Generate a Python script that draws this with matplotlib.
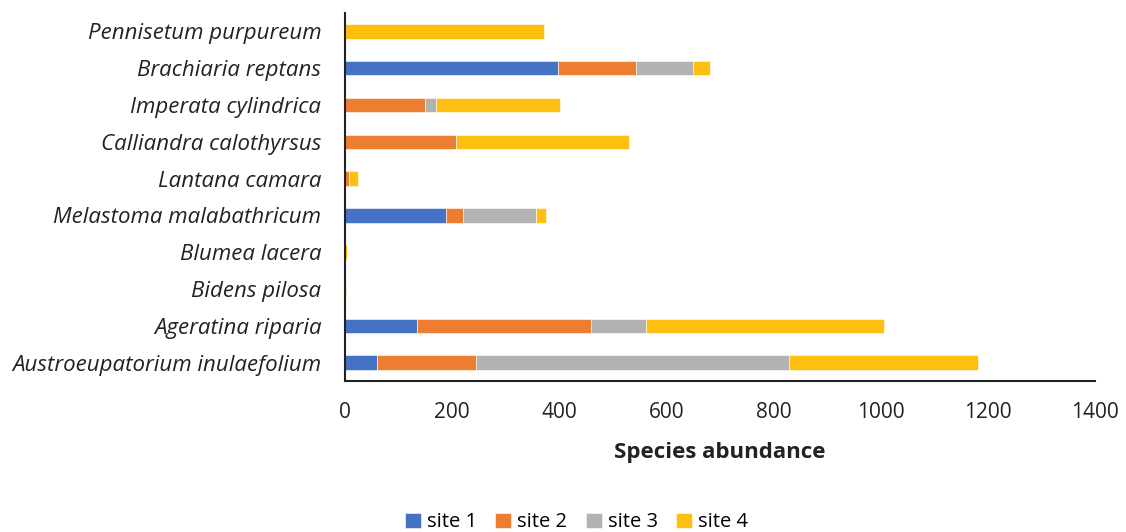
import matplotlib
matplotlib.use("Agg")
import matplotlib.pyplot as plt
import numpy as np

plt.rcParams['font.family'] = ['Open Sans', 'DejaVu Sans']

# species, listed bottom to top
species = ["Austroeupatorium inulaefolium", "Ageratina riparia", "Bidens pilosa",
           "Blumea lacera", "Melastoma malabathricum", "Lantana camara",
           "Calliandra calothyrsus", "Imperata cylindrica", "Brachiaria reptans",
           "Pennisetum purpureum"]

site1 = [59, 134, 0, 0, 188, 0, 0, 0, 397, 0]
site2 = [185, 325, 0, 0, 33, 8, 207, 149, 146, 0]
site3 = [584, 103, 0, 0, 135, 0, 0, 21, 106, 0]
site4 = [353, 444, 1, 4, 20, 17, 323, 232, 33, 371]

series = [site1, site2, site3, site4]
names = ["site 1", "site 2", "site 3", "site 4"]
colors = ["#4472C4", "#ED7D31", "#B2B2B2", "#FDC010"]

fig = plt.figure(figsize=(11.26, 5.32), dpi=100)
ax = fig.add_axes([0.3064, 0.2838, 0.6661, 0.6918])

y = np.arange(len(species))
left = np.zeros(len(species))
for vals, name, c in zip(series, names, colors):
    ax.barh(y, vals, left=left, height=0.39, color=c, label=name,
            edgecolor='white', linewidth=0.4)
    left += np.array(vals)

ax.set_xlim(0, 1400)
ax.set_ylim(-0.5, len(species) - 0.5)
ax.set_xticks(range(0, 1401, 200))
ax.set_yticks(y)
ax.set_yticklabels(species, fontstyle='italic')
ax.tick_params(axis='y', length=0, pad=17, labelsize=16, labelcolor='#222222')
ax.tick_params(axis='x', length=0, pad=15, labelsize=15, labelcolor='#222222')

for s in ['top', 'right']:
    ax.spines[s].set_visible(False)
for s in ['left', 'bottom']:
    ax.spines[s].set_linewidth(1.5)
    ax.spines[s].set_color('#222222')

ax.set_xlabel("Species abundance", fontsize=16, fontweight='bold', labelpad=14, color='#222222')

fig.legend(loc='center', bbox_to_anchor=(0.512, 0.018), ncol=4, frameon=False,
           fontsize=14.5, handlelength=0.8, handleheight=0.8, handletextpad=0.3,
           columnspacing=0.9)

fig.savefig("out.png", dpi=100)
